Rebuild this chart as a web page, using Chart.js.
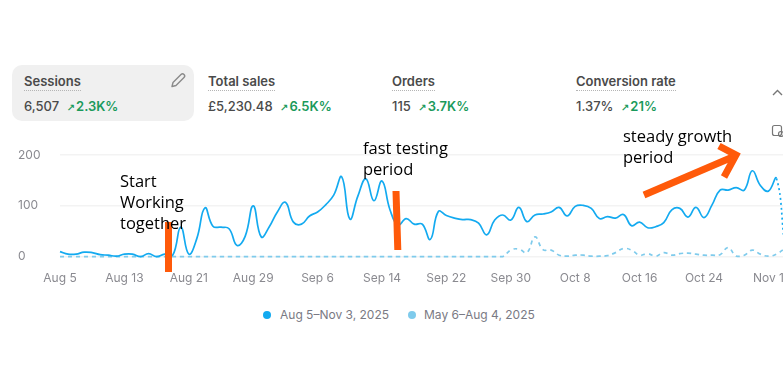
<!DOCTYPE html>
<html>
<head>
<meta charset="utf-8">
<script src="https://cdn.jsdelivr.net/npm/chart.js@4"></script>
<style>
  html, body { margin: 0; padding: 0; background: #fff; overflow: hidden; width: 783px; height: 366px; }
  body { position: relative; font-family: Inter, sans-serif; color: #303030; }
  #chartBox { position: absolute; left: 0; top: 140px; width: 790px; height: 150px; }
  .card { position: absolute; top: 65px; height: 56px; }
  .card.active { left: 12px; width: 182px; background: #f0f0f0; border-radius: 10px; }
  .kpi { position: absolute; top: 73px; font-size: 13px; white-space: nowrap; }
  .kpi .title { display: inline-block; font-weight: 600; color: #4a4a4a; line-height: 15px; border-bottom: 1.5px dotted #b5b5b5; padding-bottom: 1px; }
  .kpi .val { margin-top: 7px; font-weight: 500; color: #4a4a4a; line-height: 16px; }
  .kpi .up { color: #1a9a5b; font-weight: 600; margin-left: 4px; }
  .kpi .arr { font-family: "DejaVu Sans"; font-size: 10px; font-weight: 700; margin-right: 1px; }
  .note { position: absolute; font-family: "Open Sans", sans-serif; font-size: 16.5px; line-height: 21px; color: #000; white-space: pre; }
  svg.overlay { position: absolute; left: 0; top: 0; }
  #legend { position: absolute; top: 307px; left: 0; height: 15px; font-size: 12px; line-height: 15px; color: #7a7a84; }
  #legend span { position: absolute; white-space: nowrap; }
  #legend i { position: absolute; top: 3.5px; width: 8px; height: 8px; border-radius: 50%; }
</style>
</head>
<body>
<div class="card active"></div>
<div class="kpi" style="left:24px"><span class="title">Sessions</span><div class="val">6,507 <span class="up"><span class="arr">↗</span>2.3K%</span></div></div>
<div class="kpi" style="left:208px"><span class="title">Total sales</span><div class="val">£5,230.48 <span class="up"><span class="arr">↗</span>6.5K%</span></div></div>
<div class="kpi" style="left:392px"><span class="title">Orders</span><div class="val">115 <span class="up"><span class="arr">↗</span>3.7K%</span></div></div>
<div class="kpi" style="left:576px"><span class="title">Conversion rate</span><div class="val">1.37% <span class="up"><span class="arr">↗</span>21%</span></div></div>

<div id="chartBox"><canvas id="sessionsChart"></canvas></div>
<div id="legend"></div>

<svg class="overlay" width="783" height="366" fill="none">
  <!-- pencil -->
  <g stroke="#8a8a8a" stroke-width="1.4" stroke-linejoin="round">
    <path d="M172 86.5l1-4 8-8a2 2 0 0 1 3 3l-8 8z"/>
  </g>
  <!-- collapse chevron + clipped chat icon -->
  <path d="M773 95l4.500-4.500 4.500 4.500" stroke="#777" stroke-width="1.4"/>
  <rect x="772.500" y="125.500" width="9" height="10" rx="2" stroke="#777" stroke-width="1.2"/>
  <circle cx="781" cy="134" r="2.500" stroke="#777" stroke-width="1.2"/>
  <!-- hand drawn markers -->
  <g stroke="#ff5a0a" stroke-linecap="butt">
    <path d="M168.500 222V272" stroke-width="7"/>
    <path d="M396 191L397.800 250" stroke-width="7"/>
    <path d="M644 195L735 156" stroke-width="7"/>
    <path d="M719 146L736 155L724 177" stroke-width="7" stroke-linejoin="miter"/>
  </g>
</svg>
<div class="note" style="left:120px;top:170px">Start
Working
together</div>
<div class="note" style="left:363px;top:137px">fast testing
period</div>
<div class="note" style="left:623px;top:125px">steady growth
period</div>

<script>
const days = [
  'Aug 5','Aug 6','Aug 7','Aug 8','Aug 9','Aug 10','Aug 11','Aug 12','Aug 13','Aug 14','Aug 15','Aug 16','Aug 17','Aug 18','Aug 19','Aug 20','Aug 21','Aug 22','Aug 23','Aug 24','Aug 25','Aug 26','Aug 27','Aug 28','Aug 29','Aug 30','Aug 31',
  'Sep 1','Sep 2','Sep 3','Sep 4','Sep 5','Sep 6','Sep 7','Sep 8','Sep 9','Sep 10','Sep 11','Sep 12','Sep 13','Sep 14','Sep 15','Sep 16','Sep 17','Sep 18','Sep 19','Sep 20','Sep 21','Sep 22','Sep 23','Sep 24','Sep 25','Sep 26','Sep 27','Sep 28','Sep 29','Sep 30',
  'Oct 1','Oct 2','Oct 3','Oct 4','Oct 5','Oct 6','Oct 7','Oct 8','Oct 9','Oct 10','Oct 11','Oct 12','Oct 13','Oct 14','Oct 15','Oct 16','Oct 17','Oct 18','Oct 19','Oct 20','Oct 21','Oct 22','Oct 23','Oct 24','Oct 25','Oct 26','Oct 27','Oct 28','Oct 29','Oct 30','Oct 31',
  'Nov 1','Nov 2','Nov 3'
];

const currentSessions = [
  10,5,5,9,8,4,3,1,5,5,0,6,0,5,3,58,5,36,96,60,58,55,22,40,100,39,59,88,107,68,
  64,80,88,102,121,157,74,119,153,110,149,92,62,75,64,64,34,89,81,76,73,73,66,43,72,82,72,97,69,82,
  84,88,97,80,99,101,95,75,79,76,83,61,68,57,59,67,92,95,78,97,77,102,131,131,136,131,169,140,129,154,
  25
];

const previousSessions = [
  0,0,0,0,0,0,0,0,0,0,0,0,0,0,0,0,0,0,0,0,0,0,0,0,0,0,0,0,0,0,
  0,0,0,0,0,0,0,0,0,0,0,0,0,0,0,0,0,0,0,0,0,0,0,0,0,0,13,15,8,39,
  14,13,3,1,3,3,1,1,2,8,16,13,3,6,1,8,3,6,7,5,3,3,4,18,1,3,13,5,1,5,
  16
];

const seriesNames = ['Aug 5–Nov 3, 2025', 'May 6–Aug 4, 2025'];
const seriesColors = ['#13aaf0', '#7fcbec'];
const yTicks = [0, 100, 200];

// legend is plain html, the built in one can't do the wider gap after the dot
const legendBox = document.getElementById('legend');
[[263, 280], [408, 424]].forEach(([dotLeft, textLeft], i) => {
  legendBox.innerHTML += `<i style="left:${dotLeft}px;background:${seriesColors[i]}"></i>` +
    `<span style="left:${textLeft}px">${seriesNames[i]}</span>`;
});

const ctx = document.getElementById('sessionsChart').getContext('2d');
new Chart(ctx, {
  type: 'line',
  data: {
    labels: days,
    datasets: [
      {
        label: seriesNames[0],
        data: currentSessions,
        borderColor: seriesColors[0],
        borderWidth: 1.7,
        pointRadius: 0,
        tension: 0.45,
        clip: 4,
        // last day is still in progress, so it's dotted
        segment: { borderDash: c => c.p1DataIndex === days.length - 1 ? [2, 3] : undefined }
      },
      {
        label: seriesNames[1],
        data: previousSessions,
        borderColor: seriesColors[1],
        borderWidth: 1.7,
        borderDash: [4, 4],
        pointRadius: 0,
        tension: 0.45,
        clip: 4
      }
    ]
  },
  options: {
    responsive: true,
    maintainAspectRatio: false,
    animation: false,
    layout: { padding: { left: 18, right: 5.5, top: 15, bottom: 0 } },
    plugins: {
      tooltip: { enabled: false },
      legend: { display: false }
    },
    scales: {
      x: {
        offset: false,
        grid: { display: false },
        border: { display: false },
        afterFit: scale => { scale.height = 33.3; scale.paddingRight = 0; },
        ticks: {
          autoSkip: false,
          maxRotation: 0,
          padding: 6,
          color: '#8a8a90',
          font: { family: 'Inter', size: 12 },
          callback: (v, i) => (i % 8 === 0 ? days[i] : null)
        }
      },
      y: {
        min: 0,
        max: 200,
        afterBuildTicks: scale => { scale.ticks = yTicks.map(value => ({ value })); },
        afterFit: scale => { scale.width = 42; },
        grid: { color: '#f3f3f3', lineWidth: 1.5, drawTicks: false },
        border: { display: false },
        ticks: {
          crossAlign: 'far',
          padding: 0,
          color: '#8a8a90',
          font: { family: 'Inter', size: 12 }
        }
      }
    }
  }
});
</script>
</body>
</html>
